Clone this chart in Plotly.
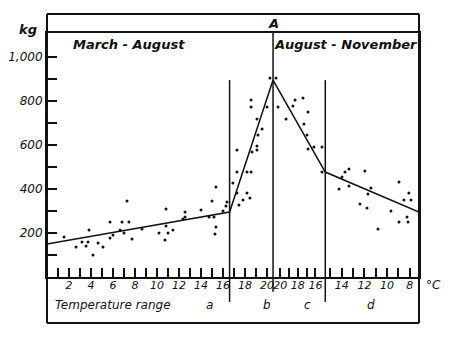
import plotly.graph_objects as go

# positions along the temperature axis (a: rising, b: rising, c/d: falling)
pos_a = [1.55, 2.64, 3.18, 3.55, 3.73, 3.82, 4.18, 4.64, 5.09, 5.73, 5.73, 6.0, 6.64, 6.82, 7.0,
         7.27, 7.45, 7.73, 8.64, 10.18, 10.73, 10.82, 10.82, 11.0, 11.45, 12.36, 12.55, 12.55,
         14.0, 14.73, 15.0, 15.18, 15.27, 15.36, 15.36, 16.0]
kg_a = [182, 136, 159, 141, 159, 214, 100, 155, 136, 177, 250, 191, 214, 250, 200,
        345, 250, 173, 218, 200, 168, 232, 309, 200, 214, 264, 273, 295,
        305, 273, 345, 273, 195, 227, 409, 300]

pos_b = [16.27, 16.36, 16.9, 17.27, 17.45, 17.82, 18.18, 18.45, 17.27, 18.18, 18.55, 17.27,
         18.64, 19.09, 19.09, 19.18, 19.55, 19.09, 18.55, 18.55, 20.0, 20.27]
kg_b = [323, 341, 427, 382, 327, 350, 382, 359, 477, 477, 477, 577,
        568, 595, 577, 645, 673, 718, 773, 805, 773, 905]

pos_c = [20.82, 21.0, 22.36, 22.55, 23.27, 23.73, 21.73, 23.36, 23.64, 23.73, 24.27, 25.0, 25.0]
kg_c = [905, 773, 777, 805, 814, 750, 718, 695, 645, 582, 591, 591, 477]

pos_d = [26.55, 26.82, 27.09, 27.45, 27.45, 28.9, 29.45, 29.18, 28.45, 29.09, 30.09, 31.27,
         32.0, 32.0, 32.45, 32.9, 33.09, 32.73, 32.82]
kg_d = [400, 455, 477, 491, 414, 482, 405, 377, 332, 314, 218, 300,
        432, 250, 350, 382, 350, 273, 250]

# fitted lines
fit_pos = [0, 16.6, 20.55, 25.3, 33.82]
fit_kg = [150, 295, 895, 477, 295]

# range boundaries
bound_ab = 16.6
bound_peak = 20.55
bound_cd = 25.3

# temperature ticks per range
temps_a = list(range(1, 17))
temps_b = [17, 18, 19, 20]
temps_c = [20, 19, 18, 17, 16]
temps_d = [15, 14, 13, 12, 11, 10, 9, 8]
labels_a = [2, 4, 6, 8, 10, 12, 14, 16]
labels_b = [18, 20]
labels_c = [20, 18, 16]
labels_d = [14, 12, 10, 8]

y_ticks = [100, 200, 300, 400, 500, 600, 700, 800, 900, 1000]
y_labels = ["", "200", "", "400", "", "600", "", "800", "", "1,000"]


def to_pos(rng, t):
    if rng in ("a", "b"):
        return t
    if rng == "c":
        return 21.2 + (20 - t) * 0.8
    return 26.8 + (14 - t) * 1.03


tickvals, ticktext = [], []
for rng, temps, labs in (("a", temps_a, labels_a), ("b", temps_b, labels_b),
                         ("c", temps_c, labels_c), ("d", temps_d, labels_d)):
    for t in temps:
        tickvals.append(to_pos(rng, t))
        ticktext.append(str(t) if t in labs else "")

ink = "#111111"
FONT = "DejaVu Sans"

fig = go.Figure()
fig.add_trace(go.Scatter(x=fit_pos, y=fit_kg, mode="lines",
                         line=dict(color=ink, width=1.5), hoverinfo="skip"))
for px_, ky in ((pos_a, kg_a), (pos_b, kg_b), (pos_c, kg_c), (pos_d, kg_d)):
    fig.add_trace(go.Scatter(x=px_, y=ky, mode="markers",
                             marker=dict(color=ink, size=3)))

top_y = 1.0779
bot_y = -0.1885
shapes = [
    dict(type="line", xref="paper", yref="paper", x0=0, x1=1, y0=top_y, y1=top_y),
    dict(type="line", xref="paper", yref="paper", x0=0, x1=1, y0=bot_y, y1=bot_y),
    dict(type="line", xref="paper", yref="paper", x0=0, x1=0, y0=bot_y, y1=top_y),
    dict(type="line", xref="paper", yref="paper", x0=1, x1=1, y0=bot_y, y1=top_y),
]
for s in shapes:
    s["line"] = dict(color=ink, width=2)
for xb, y0, y1 in ((bound_ab, -0.102, 0.807), (bound_peak, -0.06, 1.0), (bound_cd, -0.102, 0.807)):
    shapes.append(dict(type="line", xref="x", yref="paper", x0=xb, x1=xb, y0=y0, y1=y1,
                       line=dict(color=ink, width=1.5)))

it = dict(family=FONT, size=12, color=ink, style="italic")
itb = dict(family=FONT, size=13, color=ink, style="italic", weight="bold")


def note(text, x, y, font, xref="paper", xanchor="center"):
    return dict(text=text, x=x, y=y, xref=xref, yref="paper", font=font, showarrow=False,
                xanchor=xanchor, yanchor="middle")


annotations = [
    note("kg", -0.051, 1.016, itb),
    note("A", bound_peak, 1.037, itb, xref="x"),
    note("March - August", 7.45, 0.951, itb, xref="x"),
    note("August - November", 27.2, 0.951, itb, xref="x"),
    note("Temperature range", 0.55, -0.115, it, xref="x", xanchor="left"),
    note("a", 14.73, -0.115, it, xref="x"),
    note("b", 20.0, -0.115, it, xref="x"),
    note("c", 23.7, -0.115, it, xref="x"),
    note("d", 29.5, -0.115, it, xref="x"),
    note("°C", 1.038, -0.033, it),
]

# page has an 8px body margin, so the figure is 8px smaller and margins shifted
fig.update_layout(
    width=442, height=331,
    margin=dict(l=39, r=31, t=25, b=62),
    paper_bgcolor="white", plot_bgcolor="white",
    showlegend=False,
    shapes=shapes,
    annotations=annotations,
    xaxis=dict(range=[0, 33.82], showgrid=False, zeroline=False, automargin=False,
               showline=True, mirror=True, linecolor=ink, linewidth=2,
               tickmode="array", tickvals=tickvals, ticktext=ticktext, tickangle=0,
               ticks="inside", ticklen=9, tickwidth=1.5, tickcolor=ink,
               ticklabelstandoff=-3,
               tickfont=dict(family=FONT, size=11, color=ink, style="italic")),
    yaxis=dict(range=[0, 1109], showgrid=False, zeroline=False, automargin=False,
               showline=True, mirror=True, linecolor=ink, linewidth=2,
               tickmode="array", tickvals=y_ticks, ticktext=y_labels,
               ticks="inside", ticklen=10, tickwidth=2, tickcolor=ink,
               tickfont=it),
)

fig.write_html("out.html")
